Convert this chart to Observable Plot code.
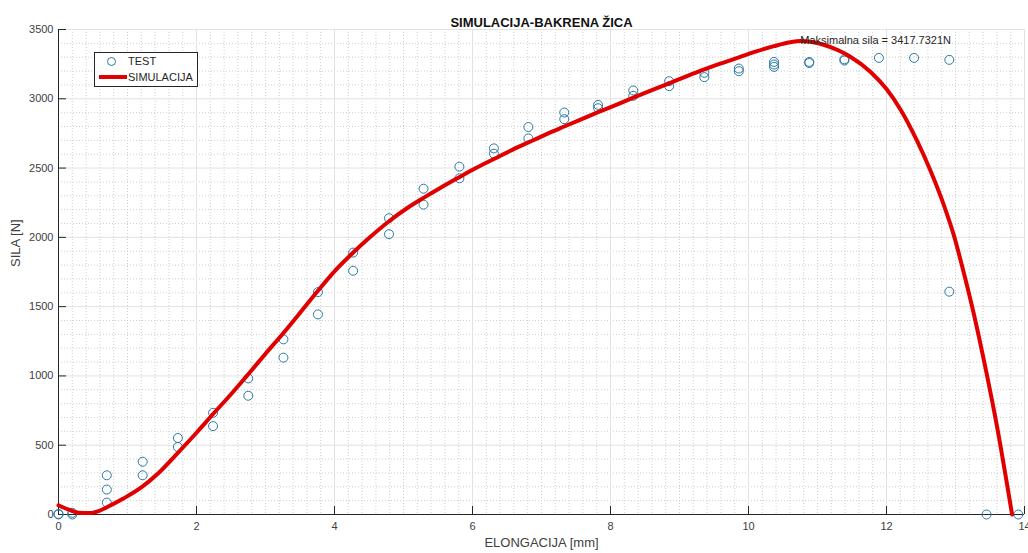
<!DOCTYPE html>
<html>
<head>
<meta charset="utf-8">
<script src="https://cdn.jsdelivr.net/npm/d3@7"></script>
<script src="https://cdn.jsdelivr.net/npm/@observablehq/plot@0.6"></script>
<style>
html,body{margin:0;padding:0;background:#fff;}
#wrap{position:relative;width:1028px;height:553px;overflow:hidden;font-family:"Liberation Sans",Arial,Helvetica,sans-serif;}
#legend{position:absolute;left:94px;top:52px;width:104px;height:35px;border:1px solid #262626;background:#fff;box-sizing:border-box;font-size:11px;color:#262626;}
#legend .circ{position:absolute;left:12px;top:4px;width:9px;height:9px;border:1px solid #2a7aa5;border-radius:50%;box-sizing:border-box;}
#legend .line{position:absolute;left:4px;top:22px;width:28px;height:4px;background:#e00000;}
#legend .t1{position:absolute;left:33px;top:2px;line-height:13px;}
#legend .t2{position:absolute;left:33px;top:18px;line-height:13px;}
</style>
</head>
<body>
<div id="wrap">
  <div id="chart"></div>
  <div id="legend"><span class="circ"></span><span class="t1">TEST</span><span class="line"></span><span class="t2">SIMULACIJA</span></div>
</div>
<script>
// ---- data ----
const testX = [0, 0, 0.2, 0.2, 0.7, 0.7, 0.7, 1.22, 1.22, 1.73, 1.73, 2.24, 2.24, 2.75, 2.75,
  3.26, 3.26, 3.76, 3.76, 4.27, 4.27, 4.79, 4.79, 5.29, 5.29, 5.81, 5.81, 6.31, 6.31,
  6.81, 6.81, 7.33, 7.33, 7.82, 7.82, 8.33, 8.33, 8.85, 8.85, 9.36, 9.36, 9.86, 9.86,
  10.37, 10.37, 10.37, 10.88, 10.88, 11.39, 11.39, 11.89, 12.40, 12.91, 12.91, 13.45, 13.91];
const testY = [0, 4, 0, 12, 283, 180, 86, 381, 283, 552, 487, 734, 638, 982, 857,
  1264, 1132, 1605, 1444, 1890, 1759, 2138, 2023, 2351, 2236, 2510, 2426, 2642, 2604,
  2796, 2714, 2901, 2853, 2956, 2932, 3060, 3021, 3127, 3091, 3187, 3156, 3218, 3199,
  3266, 3247, 3230, 3266, 3258, 3285, 3276, 3295, 3295, 3281, 1608, 0, 0];

const simX = [0, 0.15, 0.3, 0.45, 0.58, 0.7, 0.94, 1.2, 1.43, 1.73, 2.0, 2.24, 2.5, 2.75, 3.0,
  3.26, 3.5, 3.76, 4.0, 4.26, 4.5, 4.8, 5.05, 5.29, 5.55, 5.8, 6.05, 6.31, 6.55, 6.81,
  7.05, 7.33, 7.6, 7.83, 8.1, 8.34, 8.6, 8.85, 9.1, 9.36, 9.6, 9.87, 10.1, 10.37, 10.6,
  10.75, 10.9, 11.1, 11.3, 11.47, 11.77, 12.0, 12.2, 12.44, 12.63, 12.83, 12.97, 13.12,
  13.26, 13.45, 13.6, 13.82];
const simY = [67, 35, 12, 10, 25, 52, 115, 195, 290, 445, 590, 725, 868, 1012, 1160,
  1310, 1455, 1615, 1755, 1885, 1995, 2120, 2210, 2285, 2362, 2432, 2500, 2565, 2625, 2685,
  2740, 2800, 2857, 2905, 2960, 3010, 3063, 3112, 3162, 3212, 3255, 3300, 3340, 3380, 3408,
  3417.7, 3411, 3388, 3350, 3305, 3193, 3070, 2925, 2700, 2490, 2235, 2025, 1745,
  1460, 1020, 640, 0];

const maxX = [10.75];
const maxY = [3417.7321];
const maxLabel = ["Maksimalna sila = 3417.7321N"];

const xTicks = [0, 2, 4, 6, 8, 10, 12, 14];
const yTicks = [0, 500, 1000, 1500, 2000, 2500, 3000, 3500];

const titleText = "SIMULACIJA-BAKRENA ŽICA";
const xLabel = "ELONGACIJA [mm]";
const yLabel = "SILA [N]";

// ---- layout ----
const W = 1028, H = 553;
const mL = 58, mR = 4, mT = 29, mB = 39;
const plotH = H - mT - mB, plotW = W - mL - mR;

const xMinor = d3.range(0, 141, 2).map(d => d / 10).filter(d => Math.abs(d / 2 - Math.round(d / 2)) > 1e-6);
const yMinor = d3.range(0, 3501, 100).filter(d => d % 500 !== 0);

const test = testX.map((x, i) => ({x, y: testY[i]}));
const sim = simX.map((x, i) => ({x, y: simY[i]}));
const maxPt = maxX.map((x, i) => ({x, y: maxY[i], t: maxLabel[i]}));

const axisColor = "#262626";
const font = '"Liberation Sans", Arial, Helvetica, sans-serif';

const chart = Plot.plot({
  width: W, height: H,
  marginLeft: mL, marginRight: mR, marginTop: mT, marginBottom: mB,
  x: {domain: [0, 14]},
  y: {domain: [0, 3500]},
  style: {fontFamily: font, fontSize: "11px", color: "#404040", background: "white"},
  marks: [
    Plot.ruleX(xMinor, {stroke: "#cfcfcf", strokeDasharray: "1,2", strokeWidth: 1}),
    Plot.ruleY(yMinor, {stroke: "#cfcfcf", strokeDasharray: "1,2", strokeWidth: 1}),
    Plot.ruleX(xTicks, {stroke: "#e2e2e2", strokeWidth: 1}),
    Plot.ruleY(yTicks, {stroke: "#e2e2e2", strokeWidth: 1}),
    Plot.ruleX([0], {stroke: axisColor, strokeWidth: 1}),
    Plot.ruleY([0], {stroke: axisColor, strokeWidth: 1}),
    Plot.tickX(xTicks, {x: d => d, insetTop: plotH - 8, stroke: axisColor}),
    Plot.tickY(yTicks, {y: d => d, insetRight: plotW - 8, stroke: axisColor}),
    Plot.axisX({ticks: xTicks, tickSize: 0, tickPadding: 8, label: null, tickFormat: d => String(d), fill: "#404040"}),
    Plot.axisY({ticks: yTicks, tickSize: 0, tickPadding: 5, label: null, tickFormat: d => String(d), fill: "#404040"}),
    Plot.dot(test, {x: "x", y: "y", r: 4.5, stroke: "#2a7aa5", strokeWidth: 1, fill: "none"}),
    Plot.line(sim, {x: "x", y: "y", stroke: "#e00000", strokeWidth: 4, curve: "monotone-x"}),
    Plot.text(maxPt, {x: "x", y: "y", text: "t", textAnchor: "start", fontSize: 11, fill: "#262626"}),
    Plot.text([titleText], {text: d => d, frameAnchor: "top", dy: -12, fontSize: 13, fontWeight: "bold", fill: "#111"}),
    Plot.text([xLabel], {text: d => d, frameAnchor: "bottom", dy: 32, fontSize: 13, fill: "#404040"}),
    Plot.text([yLabel], {text: d => d, frameAnchor: "left", dx: -43, dy: -5, rotate: -90, fontSize: 13, fill: "#404040"})
  ]
});
document.getElementById("chart").appendChild(chart);
</script>
</body>
</html>
